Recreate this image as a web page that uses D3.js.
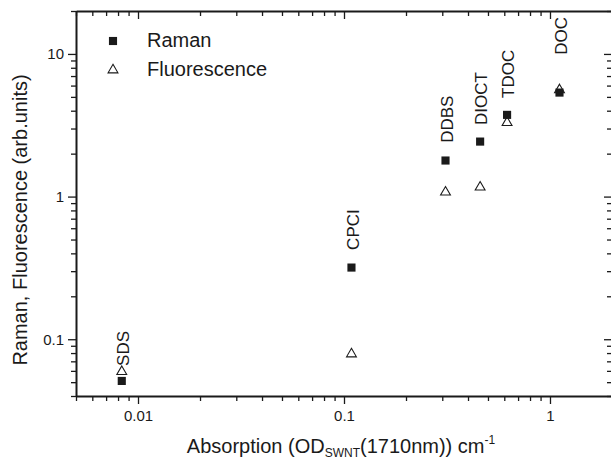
<!DOCTYPE html>
<html>
<head>
<meta charset="utf-8">
<script src="https://cdn.jsdelivr.net/npm/d3@7"></script>
<style>
    body { margin: 0; background: #fff; }
    text { font-family: "Liberation Sans", Arial, Helvetica, sans-serif; fill: #1a1a1a; }
</style>
</head>
<body>
<div id="chart"></div>
<script>
"use strict";

// surfactant names
const surfactants = ["SDS", "CPCI", "DDBS", "DIOCT", "TDOC", "DOC"];
// absorption OD_SWNT(1710nm) cm^-1
const absorption = [0.00834, 0.1087, 0.311, 0.458, 0.619, 1.112];
// Raman intensity (arb.units)
const raman = [0.051, 0.318, 1.79, 2.43, 3.74, 5.36];
// fluorescence intensity (arb.units)
const fluorescence = [0.0593, 0.0788, 1.074, 1.164, 3.30, 5.60];
// where each name label starts (value units, on the y axis)
const labelAt = [0.065, 0.423, 2.38, 3.18, 4.92, 9.86];

// axis domains and tick labels
const xDomain = [0.005, 2];
const yDomain = [0.04, 20];
const xTickLabels = [0.01, 0.1, 1];
const yTickLabels = [0.1, 1, 10];

const width = 611, height = 459;
const margin = { top: 11, right: -1, bottom: 63, left: 76 };
const innerW = width - margin.left - margin.right;
const innerH = height - margin.top - margin.bottom;
const ink = "#1a1a1a";

const svg = d3.select("#chart").append("svg")
    .attr("width", width)
    .attr("height", height);

const g = svg.append("g")
    .attr("transform", `translate(${margin.left},${margin.top})`);

const x = d3.scaleLog().domain(xDomain).range([0, innerW]);
const y = d3.scaleLog().domain(yDomain).range([innerH, 0]);

const isMajor = v => Math.abs(Math.log10(v) - Math.round(Math.log10(v))) < 1e-6;
const fmt = v => String(v);

// bottom and left axes: ticks outward, labels on majors
const xAxis = d3.axisBottom(x)
    .tickValues(x.ticks())
    .tickFormat(v => xTickLabels.some(t => Math.abs(t - v) < 1e-9) ? fmt(v) : "")
    .tickSizeOuter(0);
const yAxis = d3.axisLeft(y)
    .tickValues(y.ticks())
    .tickFormat(v => yTickLabels.some(t => Math.abs(t - v) < 1e-9) ? fmt(v) : "")
    .tickSizeOuter(0);

// top and right axes: ticks inward, no labels
const xTop = d3.axisBottom(x).tickValues(x.ticks()).tickFormat("").tickSizeOuter(0);
const yRight = d3.axisLeft(y).tickValues(y.ticks()).tickFormat("").tickSizeOuter(0);

function styleAxis(sel, sign, dir) {
    sel.select(".domain").attr("stroke", ink).attr("stroke-width", 2);
    sel.selectAll(".tick line")
        .attr("stroke", ink)
        .attr("stroke-width", 1.3)
        .attr(dir, d => sign * (isMajor(d) ? 8 : 5));
}

const gx = g.append("g").attr("transform", `translate(0,${innerH})`).call(xAxis);
styleAxis(gx, 1, "y2");
gx.selectAll(".tick text").attr("y", 14).attr("font-size", 15);

const gy = g.append("g").call(yAxis);
styleAxis(gy, -1, "x2");
gy.selectAll(".tick text").attr("x", -12).attr("font-size", 15);

const gt = g.append("g").call(xTop);
styleAxis(gt, 1, "y2");

const gr = g.append("g").attr("transform", `translate(${innerW},0)`).call(yRight);
styleAxis(gr, -1, "x2");

g.selectAll(".tick text").attr("fill", ink).attr("font-family", null);

// markers
const square = d3.symbol().type(d3.symbolSquare).size(66);
const triangle = d3.symbol().type(d3.symbolTriangle).size(42);

const rows = surfactants.map((name, i) => ({
    name: name,
    x: absorption[i],
    raman: raman[i],
    fluor: fluorescence[i],
    label: labelAt[i]
}));

g.append("g").selectAll("path")
    .data(rows)
    .join("path")
    .attr("d", triangle)
    .attr("transform", d => `translate(${x(d.x)},${y(d.fluor)})`)
    .attr("fill", "none")
    .attr("stroke", ink)
    .attr("stroke-width", 1.1);

g.append("g").selectAll("path")
    .data(rows)
    .join("path")
    .attr("d", square)
    .attr("transform", d => `translate(${x(d.x)},${y(d.raman)})`)
    .attr("fill", ink);

// surfactant labels, rotated
g.append("g").selectAll("text")
    .data(rows)
    .join("text")
    .attr("transform", d => `translate(${x(d.x) + 1},${y(d.label)}) rotate(-90)`)
    .attr("dy", "0.36em")
    .attr("font-size", 17)
    .text(d => d.name);

// legend
const legend = svg.append("g");
legend.append("path")
    .attr("d", square)
    .attr("transform", "translate(113,41)")
    .attr("fill", ink);
legend.append("path")
    .attr("d", triangle)
    .attr("transform", "translate(113,70)")
    .attr("fill", "none")
    .attr("stroke", ink)
    .attr("stroke-width", 1.1);
legend.append("text").attr("x", 147).attr("y", 47).attr("font-size", 20).text("Raman");
legend.append("text").attr("x", 147).attr("y", 76).attr("font-size", 20).text("Fluorescence");

// x axis title with subscript and superscript
const xt = svg.append("text")
    .attr("x", margin.left + innerW / 2 - 3)
    .attr("y", 453)
    .attr("text-anchor", "middle")
    .attr("font-size", 20);
xt.append("tspan").text("Absorption (OD");
xt.append("tspan").attr("font-size", 12).attr("dy", 4).text("SWNT");
xt.append("tspan").attr("dy", -4).text("(1710nm)) cm");
xt.append("tspan").attr("font-size", 12).attr("dy", -9).text("-1");

// y axis title
svg.append("text")
    .attr("transform", "translate(27,220) rotate(-90)")
    .attr("text-anchor", "middle")
    .attr("font-size", 20)
    .text("Raman, Fluorescence (arb.units)");
</script>
</body>
</html>
